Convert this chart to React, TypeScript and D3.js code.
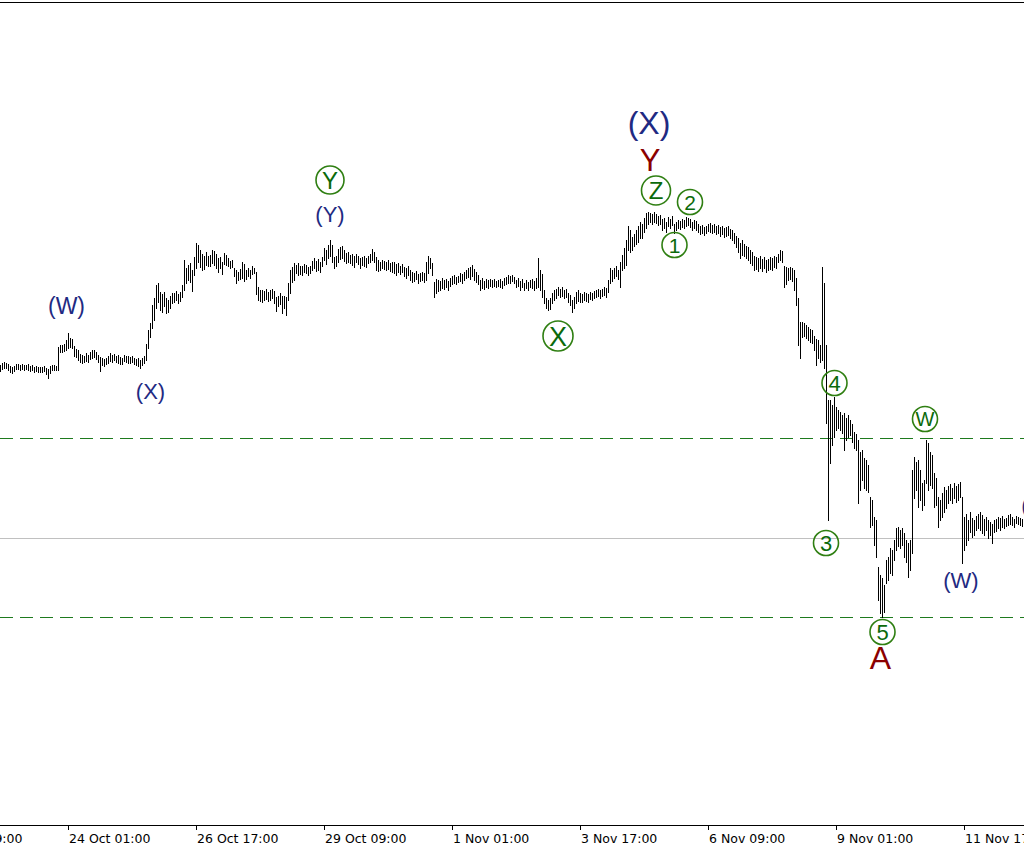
import React from "react";
import * as d3 from "d3";

// ---- data ----
const START_LABEL = "22 Oct 15:00";
const YEAR = "2018";

const tickLabels = [
  "21 Oct 09:00", "24 Oct 01:00", "26 Oct 17:00", "29 Oct 09:00", "1 Nov 01:00",
  "3 Nov 17:00", "6 Nov 09:00", "9 Nov 01:00", "11 Nov 17:00",
];

const highs = [
  635,637,638,637,636,634,633,634, 636,636,635,636,635,635,636,634,
  635,633,634,633,633,633,634,632, 631,634,635,635,634,653,655,655,
  656,660,667,662,661,654,651,650, 646,645,644,647,645,648,650,650,
  648,645,643,642,641,642,644,647, 645,646,644,645,643,642,645,644,
  644,643,644,642,641,642,640,642, 644,656,670,677,695,702,715,717,
  708,706,708,702,700,704,707,707, 709,706,708,715,740,732,735,737,
  730,743,757,755,750,746,744,748, 744,745,750,749,746,742,743,738,
  747,745,742,739,740,732,730,728, 731,738,736,730,732,730,734,732,
  728,713,710,710,709,711,708,710, 711,709,703,704,707,704,704,703,
  717,730,733,737,735,737,734,734, 736,735,733,734,739,742,739,741,
  738,743,752,750,755,760,755,743, 744,751,753,754,750,747,748,745,
  746,744,746,744,742,743,744,742, 744,746,751,748,743,740,738,740,
  739,738,740,737,738,738,736,737, 734,736,733,732,734,730,728,727,
  729,726,727,728,727,738,744,742, 737,718,721,720,719,722,720,721,
  719,722,724,725,723,724,727,726, 728,730,732,733,735,731,728,725,
  720,722,719,721,720,721,720,721, 719,720,721,719,722,723,725,724,
  725,723,720,722,719,721,717,720, 718,720,721,719,722,742,730,726,
  710,702,700,702,707,710,711,713, 711,713,710,711,707,705,700,703,
  708,710,707,706,708,707,706,708, 707,709,710,711,710,711,713,712,
  720,732,730,732,734,730,738,745, 752,760,774,770,763,766,770,774,
  778,776,782,787,788,787,786,788, 786,784,785,781,782,778,783,781,
  784,776,778,780,779,781,780,783, 782,781,778,780,779,776,774,775,
  773,774,776,777,775,776,774,775, 773,774,772,773,774,771,770,767,
  764,762,757,760,756,754,753,750, 748,744,743,742,744,741,743,740,
  741,743,742,744,743,746,750,749, 734,733,732,733,732,730,722,702,
  678,678,677,675,673,671,670,664, 661,660,655,733,717,655,600,600,
  595,603,593,590,588,585,587,582, 585,580,576,568,566,560,548,550,
  542,540,535,503,500,483,480,433, 425,422,415,440,443,452,450,460,
  472,473,470,472,467,460,457,460, 530,543,538,540,530,517,520,560,
  557,548,545,527,522,503,500,507, 513,510,514,516,512,517,514,516,
  518,503,483,486,480,488,482,480, 484,486,488,485,481,483,480,478,
  476,480,481,483,482,484,481,482, 485,486,483,481,484,483,482,481,
];

const lows = [
  629,631,632,632,630,628,627,629, 631,631,630,631,630,631,630,629,
  630,628,629,628,628,628,629,626, 622,627,630,630,630,630,648,648,
  649,650,652,653,652,644,643,640, 638,637,638,639,638,641,642,643,
  641,638,629,635,634,636,637,639, 638,640,638,637,636,636,639,638,
  637,637,638,636,635,634,632,635, 637,640,652,663,672,680,692,698,
  690,688,694,687,688,692,697,698, 700,697,699,703,710,717,720,718,
  709,725,732,738,733,730,731,735, 734,734,737,735,732,728,732,726,
  736,735,734,732,733,724,717,720, 721,722,719,721,724,722,726,727,
  706,700,699,698,700,701,699,700, 702,697,689,694,696,687,692,685,
  700,707,718,720,727,725,726,725, 728,727,725,727,730,732,729,730,
  728,734,740,736,742,744,738,732, 734,738,741,742,739,737,738,737,
  735,733,738,736,732,735,734,733, 737,738,740,738,730,729,730,732,
  731,730,731,729,728,727,725,728, 726,728,724,722,725,720,718,719,
  721,717,719,720,718,720,727,732, 725,703,707,709,710,712,711,713,
  710,714,716,717,716,718,719,717, 720,722,723,721,724,720,718,716,
  710,712,711,713,712,714,713,714, 713,714,713,712,715,716,717,717,
  719,717,713,714,710,713,710,712, 710,713,712,710,712,713,710,703,
  697,692,690,691,697,700,702,705, 703,704,702,703,698,695,688,692,
  697,699,698,698,700,699,698,701, 700,702,703,704,702,704,705,703,
  708,717,719,722,724,721,713,730, 732,735,750,748,750,754,756,758,
  762,762,768,772,776,778,776,778, 777,775,776,770,772,768,774,772,
  775,767,770,772,771,773,772,774, 775,773,770,772,770,768,766,767,
  765,767,769,768,767,768,766,767, 764,766,763,764,765,762,760,757,
  753,748,742,745,744,742,740,737, 735,730,731,729,732,729,732,728,
  730,731,730,733,732,738,740,738, 713,716,720,721,719,710,695,655,
  642,663,664,662,660,658,657,650, 635,642,638,640,632,577,480,537,
  555,563,570,572,570,567,550,560, 563,565,558,552,550,497,510,520,
  512,510,508,473,475,455,443,400, 387,383,388,417,420,427,425,440,
  450,454,452,455,443,438,423,430, 447,502,510,493,500,490,495,517,
  510,515,512,493,495,473,480,483, 488,492,497,500,497,502,498,500,
  503,437,450,455,460,468,463,465, 470,472,470,467,465,470,462,465,
  457,468,469,472,470,473,472,474, 475,476,475,473,477,476,475,474,
];

const dashedLevels = [562, 383];
const currentPrice = 462;

// wave labels: bar index (time), price, text, colour, font size
const plainLabels = [
  { text: "(W)", bar: 33.25, price: 686, color: "navy", size: 23 },
  { text: "(X)", bar: 75.25, price: 601, color: "navy", size: 22 },
  { text: "(Y)", bar: 165, price: 778, color: "navy", size: 22 },
  { text: "(X)", bar: 324.5, price: 866, color: "navy", size: 32 },
  { text: "Y", bar: 325, price: 829, color: "red", size: 31 },
  { text: "A", bar: 440.25, price: 331, color: "red", size: 32 },
  { text: "(W)", bar: 480.5, price: 412, color: "navy", size: 22 },
  { text: "(X)", bar: 518, price: 487, color: "navy", size: 22 },
];

const circledLabels = [
  { text: "Y", bar: 165, price: 820, r: 14, size: 24 },
  { text: "Z", bar: 328, price: 809.5, r: 14.5, size: 24 },
  { text: "2", bar: 345, price: 798, r: 12.5, size: 21 },
  { text: "1", bar: 337.25, price: 755, r: 12.5, size: 21 },
  { text: "X", bar: 279, price: 664, r: 15, size: 27 },
  { text: "4", bar: 417.25, price: 617, r: 12.5, size: 22 },
  { text: "W", bar: 462.5, price: 581, r: 12.5, size: 20 },
  { text: "3", bar: 413, price: 457, r: 12.5, size: 22 },
  { text: "5", bar: 441.25, price: 368, r: 12.5, size: 22 },
];

const COLORS: Record<string, string> = { navy: "#1f2a82", red: "#8b0000" };

const W = 1024;
const H = 852;
const AXIS_Y = 825;

export default function App() {
  const parse = d3.utcParse("%Y %d %b %H:%M");
  const t0 = parse(`${YEAR} ${START_LABEL}`) as Date;
  const x = d3.scaleUtc().domain([t0, d3.utcHour.offset(t0, 512)]).range([0, W]);
  const y = d3.scaleLinear().domain([175, 998]).range([AXIS_Y, 2]);
  const barX = (i: number) => x(new Date(t0.getTime() + i * 3600 * 1000));

  const barPath = highs
    .map((h, i) => {
      const bx = Math.round(barX(i)) + 0.5;
      return `M${bx},${Math.round(y(h))}V${Math.round(y(lows[i])) + 1}`;
    })
    .join("");

  const ticks = tickLabels.map((l) => ({ label: l, pos: Math.round(x(parse(`${YEAR} ${l}`) as Date)) }));

  return (
    <svg
      width={W}
      height={H}
      style={{ position: "absolute", left: 0, top: 0, display: "block", background: "#fff" }}
      shapeRendering="crispEdges"
    >
      <rect x={0} y={0} width={W} height={H} fill="#fff" />
      <line x1={0} x2={W} y1={2.5} y2={2.5} stroke="#000" />
      {/* levels */}
      <line x1={0} x2={W} y1={Math.round(y(currentPrice)) + 0.5} y2={Math.round(y(currentPrice)) + 0.5} stroke="#c0c0c0" />
      {dashedLevels.map((p, i) => (
        <line key={i} x1={0} x2={W} y1={Math.round(y(p)) + 0.5} y2={Math.round(y(p)) + 0.5}
          stroke="#1e7a1e" strokeDasharray="13,7" />
      ))}
      {/* bars */}
      <path d={barPath} stroke="#000" strokeWidth={1} fill="none" />
      {/* axis */}
      <line x1={0} x2={W} y1={AXIS_Y + 0.5} y2={AXIS_Y + 0.5} stroke="#000" />
      {ticks.map((t, i) => (
        <g key={i}>
          <line x1={t.pos + 0.5} x2={t.pos + 0.5} y1={AXIS_Y} y2={AXIS_Y + 5} stroke="#000" />
          <text x={t.pos + 1} y={843} fontFamily="DejaVu Sans, sans-serif" fontSize={12.5} fill="#000"
            shapeRendering="auto">{t.label}</text>
        </g>
      ))}
      {/* wave labels */}
      <g fontFamily="Liberation Sans, Arial, sans-serif" shapeRendering="geometricPrecision">
        {plainLabels.map((l, i) => (
          <text key={i} x={barX(l.bar)} y={y(l.price)} textAnchor="middle" fontSize={l.size} fill={COLORS[l.color]}>
            {l.text}
          </text>
        ))}
        {circledLabels.map((c, i) => {
          const cx = barX(c.bar);
          const cy = y(c.price);
          return (
            <g key={i}>
              <circle cx={cx} cy={cy} r={c.r} fill="none" stroke="#2f7f12" strokeWidth={1.6} />
              <text x={cx} y={cy + c.size * 0.358} textAnchor="middle" fontSize={c.size} fill="#0b6a0b">
                {c.text}
              </text>
            </g>
          );
        })}
      </g>
    </svg>
  );
}
